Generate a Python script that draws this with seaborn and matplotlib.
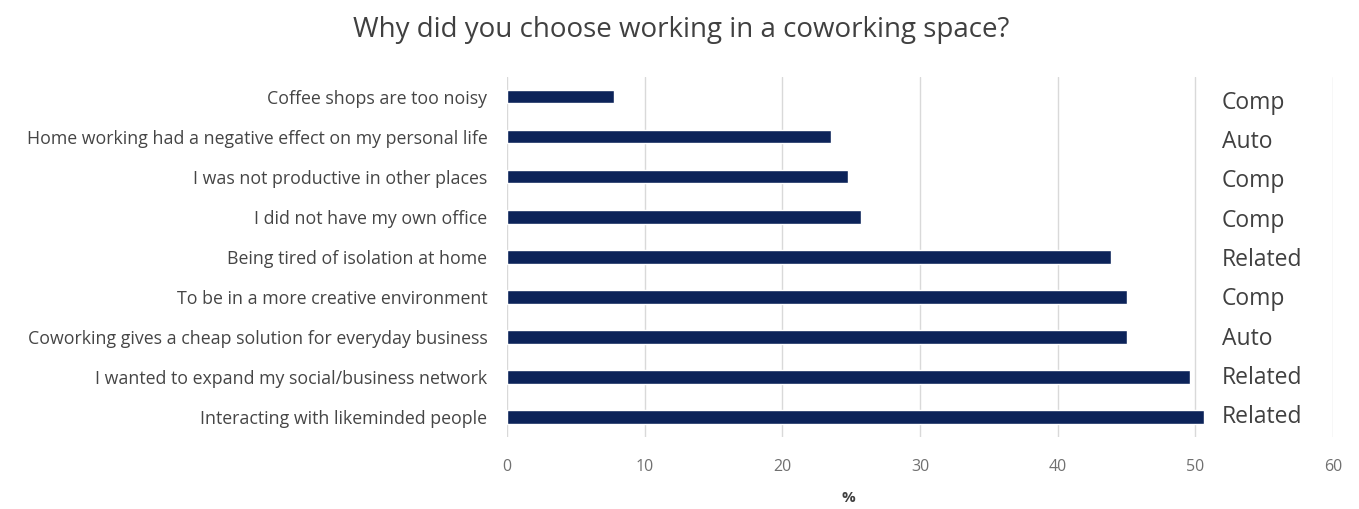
import matplotlib
matplotlib.use("Agg")
import matplotlib.pyplot as plt
import seaborn as sns
import pandas as pd

categories = [
    "Coffee shops are too noisy",
    "Home working had a negative effect on my personal life",
    "I was not productive in other places",
    "I did not have my own office",
    "Being tired of isolation at home",
    "To be in a more creative environment",
    "Coworking gives a cheap solution for everyday business",
    "I wanted to expand my social/business network",
    "Interacting with likeminded people",
]
values = [7.8, 23.5, 24.8, 25.7, 43.9, 45.0, 45.0, 49.6, 50.6]
groups = ["Comp", "Auto", "Comp", "Comp", "Related", "Comp", "Auto", "Related", "Related"]
xticks = [0, 10, 20, 30, 40, 50, 60]

sns.set_theme(style="white")
plt.rcParams['font.family'] = ['Open Sans', 'DejaVu Sans']

df = pd.DataFrame({"reason": categories, "pct": values})

fig = plt.figure(figsize=(13.59, 5.09), dpi=100)
ax = fig.add_axes([0.373, 0.1415, 0.608, 0.7075])

sns.barplot(data=df, x="pct", y="reason", orient="h", color="#0c2359",
            width=0.33, saturation=1, ax=ax)

ax.set_xlim(0, 60)
ax.set_ylim(8.5, -0.5)
ax.set_xticks(xticks)
ax.set_xticklabels([str(t) for t in xticks])
ax.grid(axis="x", color="#d9d9d9", linewidth=1)
ax.set_axisbelow(True)
for s in ax.spines.values():
    s.set_visible(False)
ax.tick_params(axis="y", length=0, pad=14, labelsize=12.8, labelcolor="#454545")
ax.tick_params(axis="x", length=0, pad=16, labelsize=11.5, labelcolor="#707070")
ax.set_ylabel("")
ax.set_xlabel("%", fontsize=11, color="#404040", fontweight="bold")
ax.xaxis.set_label_coords((848 - 507) / (1333 - 507), -0.15)

for i, g in enumerate(groups):
    ax.text(51.9, i + 0.15 - 0.018 * i, g, va="center", ha="left", fontsize=16.5,
            color="#404040", clip_on=False)

fig.text(0.501, 0.941, "Why did you choose working in a coworking space?",
         ha="center", va="center", fontsize=20, color="#404040")

fig.savefig("out.png", dpi=100)
